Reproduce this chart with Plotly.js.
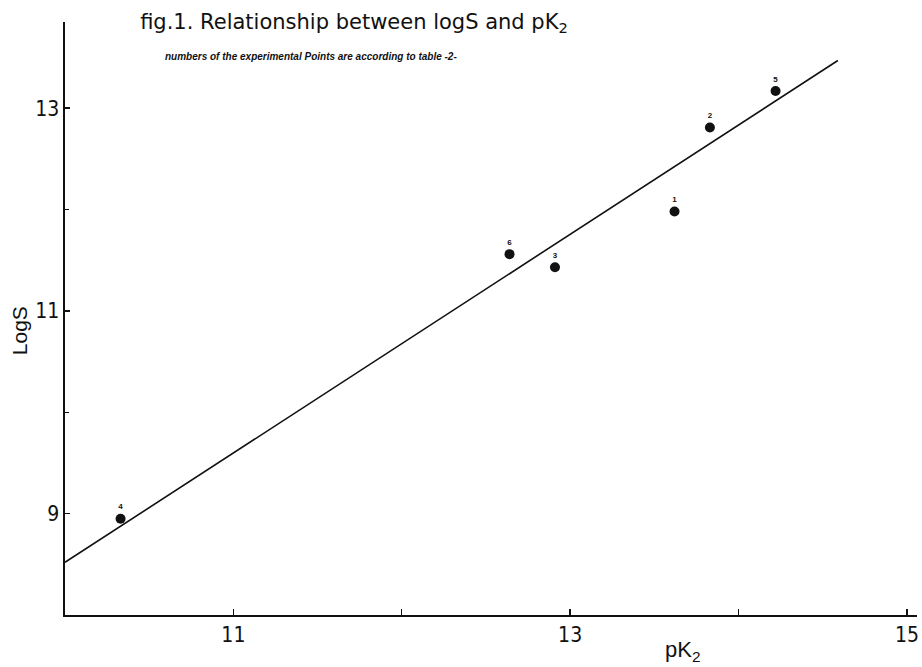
<!DOCTYPE html>
<html>
<head>
<meta charset="utf-8">
<script src="https://cdn.plot.ly/plotly-3.0.1.min.js"></script>
<style>html,body{margin:0;padding:0;background:#fff;}#chart{width:922px;height:667px;}</style>
</head>
<body>
<div id="chart"></div>
<script>
// Experimental points (numbers according to table 2)
const pointLabels = ["1", "2", "3", "4", "5", "6"];
const pK2 = [13.62, 13.83, 12.91, 10.33, 14.22, 12.64];
const logS = [11.98, 12.81, 11.43, 8.95, 13.17, 11.56];

// Fitted straight line (end points)
const lineX = [10.0, 14.59];
const lineY = [8.52, 13.47];

// Axis ticks
const xTickVals = [11, 13, 15];
const xTickText = ["11", "13", "15"];
const xMinorTickVals = [12, 14];
const yTickVals = [9, 11, 13];
const yTickText = ["9", "11", "13"];
const yMinorTickVals = [10, 12];

const tickFont = {family: "Liberation Sans Narrow, DejaVu Sans Condensed, Liberation Sans, Arial, sans-serif", size: 21, color: "#111"};

const traces = [
  {
    x: lineX, y: lineY, type: "scatter", mode: "lines",
    line: {color: "#111", width: 1.6}, hoverinfo: "skip", showlegend: false
  },
  {
    x: pK2, y: logS, type: "scatter", mode: "markers+text",
    text: pointLabels, textposition: "top center",
    textfont: {family: "Liberation Sans, Arial, sans-serif", size: 8, color: "#111", weight: "bold"},
    marker: {color: "#111", size: 10},
    showlegend: false
  }
];

const layout = {
  width: 922, height: 667,
  paper_bgcolor: "#fff", plot_bgcolor: "#fff",
  margin: {l: 65, r: 5, t: 22, b: 52},
  showlegend: false,
  title: {
    text: "fig.1. Relationship between logS and pK<sub>2</sub>",
    font: {family: "DejaVu Sans, Verdana, sans-serif", size: 21, color: "#111"},
    x: 0.152, xanchor: "left", xref: "container",
    y: 0.968, yanchor: "middle", yref: "container"
  },
  xaxis: {
    range: [10, 15.06], showgrid: false, zeroline: false,
    showline: true, linecolor: "#111", linewidth: 1.6,
    ticks: "inside", ticklen: 6, tickwidth: 1.4, tickcolor: "#111",
    tickvals: xTickVals, ticktext: xTickText, tickfont: tickFont,
    minor: {tickvals: xMinorTickVals, ticks: "inside", ticklen: 6, tickwidth: 1.4, tickcolor: "#111", showgrid: false}
  },
  yaxis: {
    range: [8, 13.85], showgrid: false, zeroline: false,
    showline: true, linecolor: "#111", linewidth: 1.6,
    ticks: "inside", ticklen: 5, tickwidth: 1.4, tickcolor: "#111",
    tickvals: yTickVals, ticktext: yTickText, tickfont: tickFont,
    minor: {tickvals: yMinorTickVals, ticks: "inside", ticklen: 4, tickwidth: 1.4, tickcolor: "#111", showgrid: false}
  },
  annotations: [
    {
      text: "<b><i>numbers of the experimental Points are according to table -2-</i></b>",
      xref: "paper", yref: "paper", x: 0.115, y: 0.941,
      xanchor: "left", yanchor: "middle", showarrow: false,
      font: {family: "Liberation Sans, Arial, sans-serif", size: 10, color: "#111"}
    },
    {
      text: "pK<sub>2</sub>",
      xref: "paper", yref: "paper", x: 0.725, y: -0.06,
      xanchor: "center", yanchor: "middle", showarrow: false,
      font: {family: "Liberation Sans, Arial, sans-serif", size: 22, color: "#111"}
    },
    {
      text: "LogS",
      xref: "paper", yref: "paper", x: -0.053, y: 0.48,
      xanchor: "center", yanchor: "middle", showarrow: false, textangle: -90,
      font: {family: "Liberation Sans, Arial, sans-serif", size: 21, color: "#111"}
    }
  ]
};

Plotly.newPlot("chart", traces, layout, {displayModeBar: false, staticPlot: true});
</script>
</body>
</html>
